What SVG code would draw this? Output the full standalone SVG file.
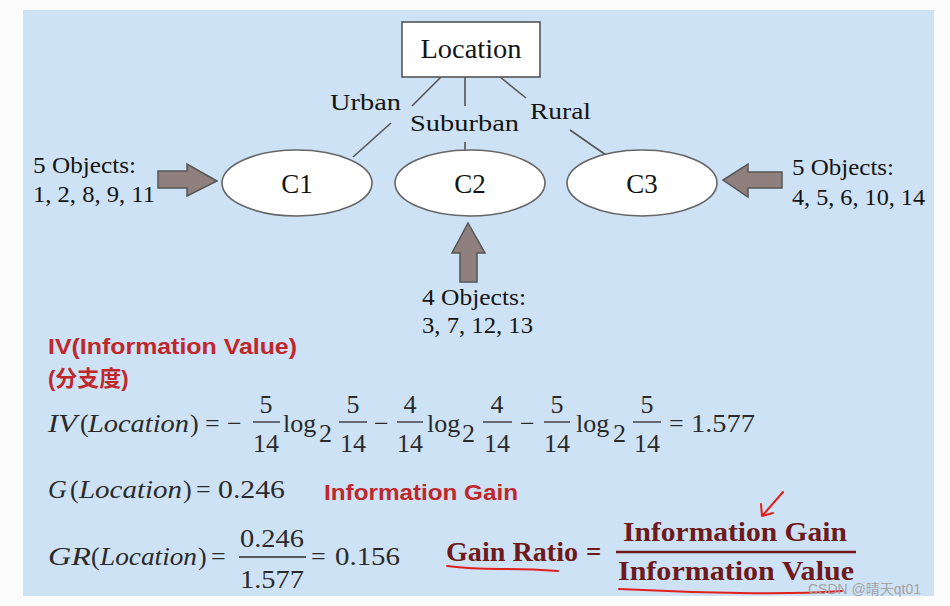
<svg xmlns="http://www.w3.org/2000/svg" width="950" height="606" viewBox="0 0 950 606">
<defs>
<style>
.serif{font-family:"Liberation Serif","Times New Roman",serif;fill:#141414}
.lbl{font-size:23px}
.node{font-size:27px}
.it{font-style:italic}
.math{font-family:"Liberation Serif","Times New Roman",serif;font-size:26px;fill:#2a2a2a}
.red{font-family:"Liberation Sans",Arial,"Noto Sans CJK SC",sans-serif;font-weight:bold;fill:#c0262a}
.gr{font-family:"Liberation Serif","Times New Roman",serif;font-weight:bold;font-size:27px;fill:#6e1a1c}
.edge{stroke:#555;stroke-width:1.6;fill:none}
.blk{fill:#8f807e;stroke:#555;stroke-width:1.5;stroke-linejoin:miter}
.ell{fill:#ffffff;stroke:#666;stroke-width:1.6}
.bar{stroke:#2a2a2a;stroke-width:1.3}
.hand{stroke:#e0201c;stroke-width:2;fill:none;stroke-linecap:round;stroke-linejoin:round}
</style>
</defs>
<rect x="0" y="0" width="950" height="606" fill="#fcfcfc"/>
<rect x="23" y="10" width="911" height="586" fill="#cee2f5"/>

<g id="connectors">
<line class="edge" x1="441" y1="77" x2="412" y2="106"/>
<line class="edge" x1="391" y1="123" x2="353" y2="157"/>
<line class="edge" x1="465" y1="77" x2="465" y2="106"/>
<line class="edge" x1="465" y1="142" x2="465" y2="152"/>
<line class="edge" x1="500" y1="77" x2="526" y2="98"/>
<line class="edge" x1="570" y1="130" x2="606" y2="155"/>
<text class="serif lbl" x="330" y="110" textLength="71" lengthAdjust="spacingAndGlyphs">Urban</text>
<text class="serif lbl" x="410" y="131" textLength="109" lengthAdjust="spacingAndGlyphs">Suburban</text>
<text class="serif lbl" x="530" y="119" textLength="61" lengthAdjust="spacingAndGlyphs">Rural</text>
<path class="blk" d="M158,171 H187 V164 L217,181 L187,196 V188 H158 Z"/>
<path class="blk" d="M782,172 H748 V164 L723,180 L748,197 V188 H782 Z"/>
<path class="blk" d="M460,282 V253 H452 L468,223 L485,253 H477 V282 Z"/>
</g>

<g id="location">
<rect x="402" y="22" width="138" height="55" fill="#ffffff" stroke="#555" stroke-width="1.6"/>
<text class="serif node" x="471" y="58" text-anchor="middle" textLength="101" lengthAdjust="spacingAndGlyphs">Location</text>
</g>
<g id="c1">
<ellipse class="ell" cx="297" cy="183" rx="75" ry="33"/>
<text class="serif node" x="297" y="193" text-anchor="middle">C1</text>
</g>
<g id="c2">
<ellipse class="ell" cx="470" cy="183" rx="75" ry="33"/>
<text class="serif node" x="470" y="193" text-anchor="middle">C2</text>
</g>
<g id="c3">
<ellipse class="ell" cx="642" cy="183" rx="75" ry="33"/>
<text class="serif node" x="642" y="193" text-anchor="middle">C3</text>
</g>

<g id="objects-left">
<text class="serif lbl" x="33" y="173" textLength="103" lengthAdjust="spacingAndGlyphs">5 Objects:</text>
<text class="serif lbl" x="33" y="202" textLength="122" lengthAdjust="spacingAndGlyphs">1, 2, 8, 9, 11</text>
</g>
<g id="objects-right">
<text class="serif lbl" x="792" y="175" textLength="102" lengthAdjust="spacingAndGlyphs">5 Objects:</text>
<text class="serif lbl" x="792" y="205" textLength="133" lengthAdjust="spacingAndGlyphs">4, 5, 6, 10, 14</text>
</g>
<g id="objects-bottom">
<text class="serif lbl" x="422" y="305" textLength="104" lengthAdjust="spacingAndGlyphs">4 Objects:</text>
<text class="serif lbl" x="422" y="333" textLength="111" lengthAdjust="spacingAndGlyphs">3, 7, 12, 13</text>
</g>

<g id="iv-title">
<text class="red" x="48" y="354" font-size="22" textLength="249" lengthAdjust="spacingAndGlyphs">IV(Information Value)</text>
<text class="red" x="48" y="386" font-size="22">(分支度)</text>
</g>

<g id="iv-formula" class="math">
<text class="math it" x="48" y="432" textLength="29" lengthAdjust="spacingAndGlyphs">IV</text>
<text class="math" x="80" y="432">(</text>
<text class="math it" x="88" y="432" textLength="101" lengthAdjust="spacingAndGlyphs">Location</text>
<text class="math" x="190" y="432">)</text>
<text class="math" x="205" y="432">=</text>
<text class="math" x="227" y="432">−</text>
<text class="math" x="266" y="413" text-anchor="middle">5</text>
<line class="bar" x1="253" y1="422" x2="280" y2="422"/>
<text class="math" x="266" y="452" text-anchor="middle">14</text>
<text class="math" x="283" y="432">log</text>
<text class="math" x="319" y="442" font-size="17">2</text>
<text class="math" x="353" y="413" text-anchor="middle">5</text>
<line class="bar" x1="339" y1="422" x2="367" y2="422"/>
<text class="math" x="353" y="452" text-anchor="middle">14</text>
<text class="math" x="374" y="432">−</text>
<text class="math" x="410" y="413" text-anchor="middle">4</text>
<line class="bar" x1="397" y1="422" x2="423" y2="422"/>
<text class="math" x="410" y="452" text-anchor="middle">14</text>
<text class="math" x="427" y="432">log</text>
<text class="math" x="462" y="442" font-size="17">2</text>
<text class="math" x="497" y="413" text-anchor="middle">4</text>
<line class="bar" x1="483" y1="422" x2="512" y2="422"/>
<text class="math" x="497" y="452" text-anchor="middle">14</text>
<text class="math" x="520" y="432">−</text>
<text class="math" x="557" y="413" text-anchor="middle">5</text>
<line class="bar" x1="544" y1="422" x2="570" y2="422"/>
<text class="math" x="557" y="452" text-anchor="middle">14</text>
<text class="math" x="576" y="432">log</text>
<text class="math" x="613" y="442" font-size="17">2</text>
<text class="math" x="647" y="413" text-anchor="middle">5</text>
<line class="bar" x1="633" y1="422" x2="661" y2="422"/>
<text class="math" x="647" y="452" text-anchor="middle">14</text>
<text class="math" x="669" y="432">=</text>
<text class="math" x="691" y="432" textLength="64" lengthAdjust="spacingAndGlyphs">1.577</text>
</g>

<g id="g-formula">
<text class="math it" x="48" y="498">G</text>
<text class="math" x="70" y="498">(</text>
<text class="math it" x="79" y="498" textLength="103" lengthAdjust="spacingAndGlyphs">Location</text>
<text class="math" x="183" y="498">)</text>
<text class="math" x="196" y="498">=</text>
<text class="math" x="218" y="498" textLength="67" lengthAdjust="spacingAndGlyphs">0.246</text>
<text class="red" x="324" y="500" font-size="22" textLength="194" lengthAdjust="spacingAndGlyphs">Information Gain</text>
</g>

<g id="gr-formula">
<text class="math it" x="48" y="565" textLength="43" lengthAdjust="spacingAndGlyphs">GR</text>
<text class="math" x="91" y="565">(</text>
<text class="math it" x="100" y="565" textLength="97" lengthAdjust="spacingAndGlyphs">Location</text>
<text class="math" x="198" y="565">)</text>
<text class="math" x="211" y="565">=</text>
<text class="math" x="272" y="547" text-anchor="middle" textLength="64" lengthAdjust="spacingAndGlyphs">0.246</text>
<line class="bar" x1="239" y1="557" x2="306" y2="557"/>
<text class="math" x="272" y="588" text-anchor="middle" textLength="64" lengthAdjust="spacingAndGlyphs">1.577</text>
<text class="math" x="311" y="565">=</text>
<text class="math" x="335" y="565" textLength="65" lengthAdjust="spacingAndGlyphs">0.156</text>
</g>

<g id="gain-ratio">
<text class="gr" x="446" y="561" textLength="132" lengthAdjust="spacingAndGlyphs">Gain Ratio</text>
<text class="gr" x="586" y="561">=</text>
<text class="gr" x="623" y="541" textLength="224" lengthAdjust="spacingAndGlyphs">Information Gain</text>
<line x1="616" y1="552" x2="856" y2="552" stroke="#6e1a1c" stroke-width="2.6"/>
<text class="gr" x="618" y="580" textLength="236" lengthAdjust="spacingAndGlyphs">Information Value</text>
<path class="hand" d="M447,566 Q470,569 500,569 T558,571"/>
<path class="hand" d="M619,589 Q680,592 740,593 T842,591"/>
<path class="hand" d="M783,492 L763,515 M761,504 L762,516 L773,513"/>
</g>

<text x="808" y="594" font-family="Liberation Sans,Arial,'Noto Sans CJK SC',sans-serif" font-size="14" fill="#a3a3a3">CSDN @晴天qt01</text>
</svg>
